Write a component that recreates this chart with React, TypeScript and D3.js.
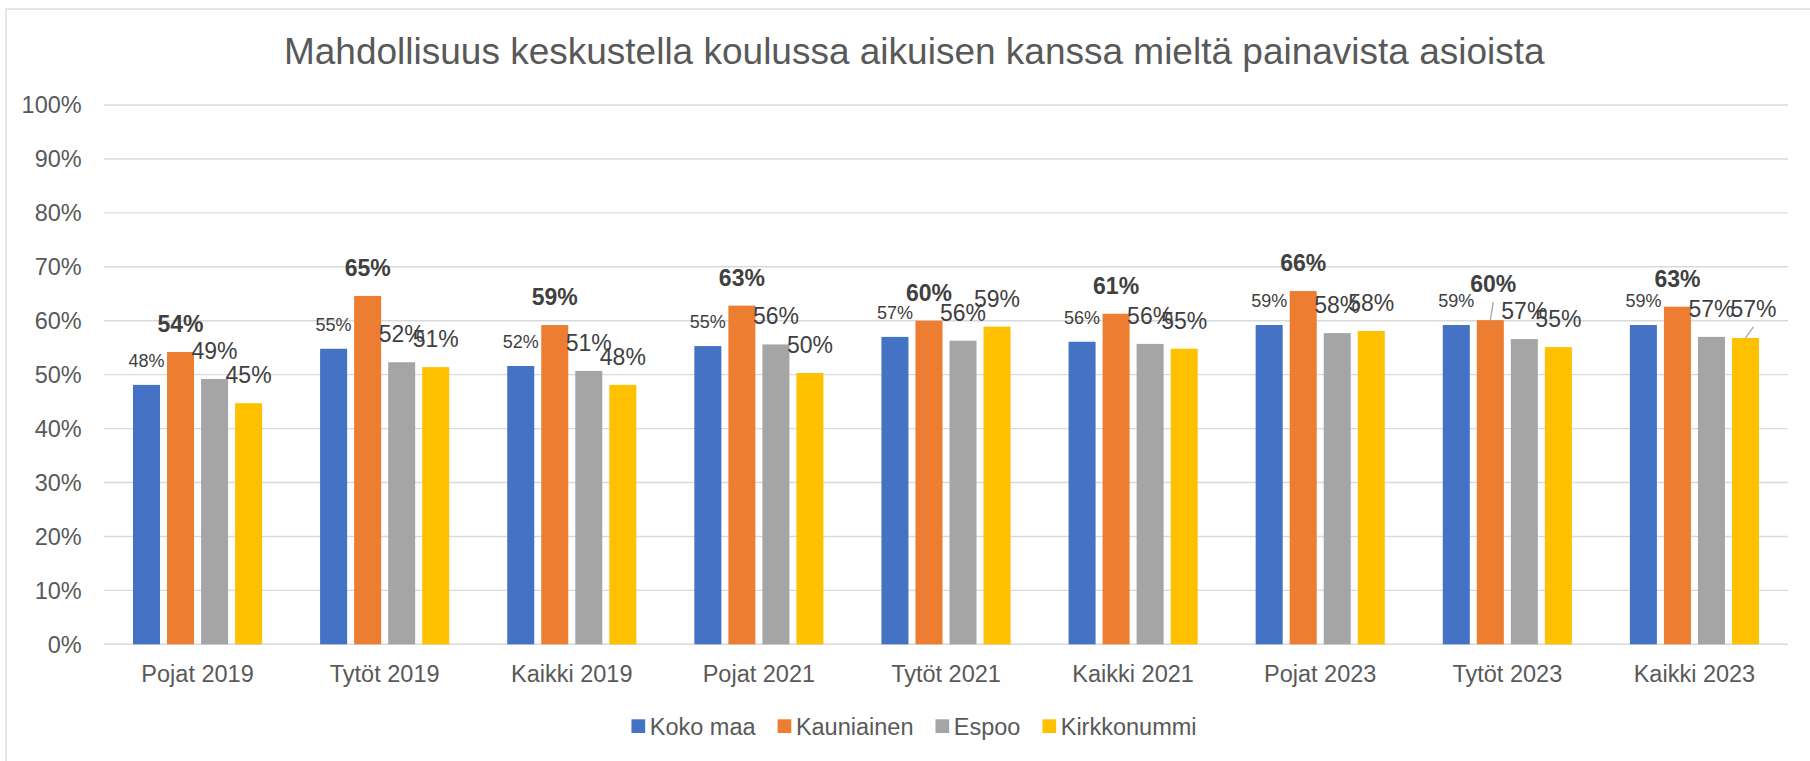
import React from 'react';
import * as d3 from 'd3';

const title = 'Mahdollisuus keskustella koulussa aikuisen kanssa mieltä painavista asioista';
const categories = ['Pojat 2019', 'Tytöt 2019', 'Kaikki 2019', 'Pojat 2021', 'Tytöt 2021', 'Kaikki 2021', 'Pojat 2023', 'Tytöt 2023', 'Kaikki 2023'];
const seriesNames = ['Koko maa', 'Kauniainen', 'Espoo', 'Kirkkonummi'];
const kokoMaa = [48.1, 54.8, 51.6, 55.3, 57.0, 56.1, 59.2, 59.2, 59.2];
const kauniainen = [54.2, 64.6, 59.2, 62.8, 60.0, 61.3, 65.5, 60.1, 62.6];
const espoo = [49.2, 52.3, 50.7, 55.6, 56.3, 55.7, 57.7, 56.6, 57.0];
const kirkkonummi = [44.7, 51.4, 48.1, 50.3, 58.9, 54.8, 58.1, 55.1, 56.8];
const yTicks = [0, 10, 20, 30, 40, 50, 60, 70, 80, 90, 100];

const seriesValues = [kokoMaa, kauniainen, espoo, kirkkonummi];
const colors = ['#4472C4', '#ED7D31', '#A5A5A5', '#FFC000'];
const FONT = "'Liberation Sans', Arial, sans-serif";
const W = 1810;
const H = 761;
const plot = { left: 104, right: 1788, top: 105, bottom: 644.3 };
const labelStyles = [
  { size: 18, weight: 400, gap: 18 },
  { size: 23, weight: 700, gap: 20 },
  { size: 23, weight: 400, gap: 20 },
  { size: 23, weight: 400, gap: 20 },
];
// manually moved data callouts (series index, category index, offset)
const callouts = [
  { s: 1, c: 7, dx: 3, dy: -8 },
  { s: 3, c: 8, dx: 8, dy: -1 },
];

function measure(text: string, font: string): number {
  const c = document.createElement('canvas');
  const ctx = c.getContext('2d');
  if (!ctx) return text.length * 12;
  ctx.font = font;
  return ctx.measureText(text).width;
}

export default function App() {
  const x0 = d3.scaleBand<string>().domain(categories).range([plot.left, plot.right]).padding(0);
  const groupW = x0.step() * 0.69;
  const x1 = d3.scaleBand<string>().domain(seriesNames).range([0, groupW]).paddingInner(0.206).paddingOuter(0);
  const y = d3.scaleLinear().domain([0, 100]).range([plot.bottom, plot.top]);
  const fmt = d3.format('.0%');

  const groupStart = (c: string) => (x0(c) as number) + (x0.step() - groupW) / 2;

  // legend layout
  const legFont = `23.5px ${FONT}`;
  const sq = 13.7;
  const sqGap = 4.6;
  const itemGap = 22;
  const widths = seriesNames.map((n) => measure(n, legFont));
  const total = d3.sum(widths) + seriesNames.length * (sq + sqGap) + (seriesNames.length - 1) * itemGap;
  let cursor = 914 - total / 2;
  const legendItems = seriesNames.map((n, i) => {
    const item = { name: n, x: cursor, color: colors[i] };
    cursor += sq + sqGap + widths[i] + itemGap;
    return item;
  });

  return (
    <svg width={W} height={H} style={{ position: 'absolute', left: 0, top: 0, background: '#fff' }} fontFamily={FONT}>
      <rect x={0} y={0} width={W} height={H} fill="#fff" />
      <rect x={6} y={9} width={W + 20} height={H + 20} fill="none" stroke="#d9d9d9" strokeWidth={1.3} />
      <text x={914.3} y={64} textAnchor="middle" fontSize={37} fill="#595959">{title}</text>

      {yTicks.map((t) => (
        <g key={t}>
          <line x1={plot.left} x2={plot.right} y1={y(t)} y2={y(t)} stroke="#d9d9d9" strokeWidth={1.4} />
          <text x={81.7} y={y(t)} dy="0.35em" textAnchor="end" fontSize={23.5} fill="#595959">{fmt(t / 100)}</text>
        </g>
      ))}

      {categories.map((c, ci) => (
        <g key={c}>
          {seriesNames.map((s, si) => {
            const v = seriesValues[si][ci];
            const bx = groupStart(c) + (x1(s) as number);
            return (
              <rect key={s} x={bx} y={y(v)} width={x1.bandwidth()} height={y(0) - y(v)} fill={colors[si]} />
            );
          })}
          <text x={(x0(c) as number) + x0.bandwidth() / 2} y={681.7} textAnchor="middle" fontSize={23.5} fill="#595959">{c}</text>
        </g>
      ))}

      {categories.map((c, ci) => (
        <g key={'l' + c}>
          {seriesNames.map((s, si) => {
            const v = seriesValues[si][ci];
            const st = labelStyles[si];
            const cx = groupStart(c) + (x1(s) as number) + x1.bandwidth() / 2;
            const co = callouts.find((k) => k.s === si && k.c === ci);
            const lx = cx + (co ? co.dx : 0);
            const ly = y(v) - st.gap + (co ? co.dy : 0);
            return (
              <g key={s}>
                {co && (
                  <line x1={lx} y1={ly + 10} x2={cx} y2={y(v)} stroke="#a6a6a6" strokeWidth={1.3} />
                )}
                <text x={lx} y={ly} textAnchor="middle" fontSize={st.size} fontWeight={st.weight} fill="#404040">
                  {fmt(v / 100)}
                </text>
              </g>
            );
          })}
        </g>
      ))}

      {legendItems.map((it) => (
        <g key={it.name}>
          <rect x={it.x} y={719.3} width={sq} height={sq} fill={it.color} />
          <text x={it.x + sq + sqGap} y={735} fontSize={23.5} fill="#595959">{it.name}</text>
        </g>
      ))}
    </svg>
  );
}
